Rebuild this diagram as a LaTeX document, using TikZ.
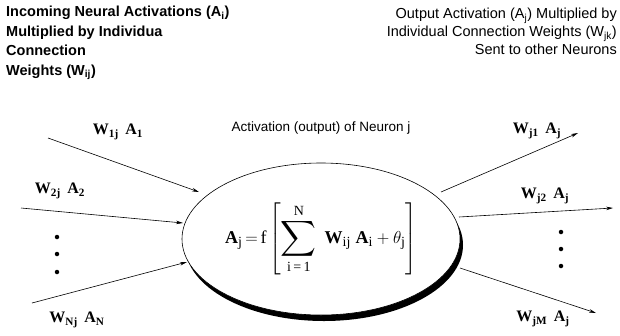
\documentclass[tikz,border=0pt]{standalone}
\usepackage{amsmath}
\usepackage{fontspec}
\setmainfont{Liberation Sans}
\newfontfamily\labfont{Liberation Serif}
\usetikzlibrary{shapes.geometric,arrows.meta}
\newcommand\mybigsum{\mathop{\vcenter{\hbox{\fontsize{26}{30}\selectfont$\displaystyle\sum$}}}}
\newcommand\ser[1]{\mbox{\fontsize{14}{16}\selectfont\labfont #1}}
\newcommand\serb[1]{\mbox{\labfont\bfseries #1}}
\begin{document}
\begin{tikzpicture}[x=1pt,y=-1pt,
  conn/.style={line width=0.6pt,-{Stealth[length=7pt,width=3.5pt]}},
  headl/.style={inner sep=0pt,font=\fontsize{14.5}{19.5}\selectfont\bfseries},
  headr/.style={inner sep=0pt,font=\fontsize{14.5}{18}\selectfont},
  wlab/.style={inner sep=0pt,font=\fontsize{16}{18}\selectfont\labfont\bfseries},
  vdot/.style={circle,fill=black,inner sep=0pt,minimum size=4.5pt},
  neur/.style={ellipse,draw,line width=0.6pt,fill=white,minimum width=278pt,minimum height=152pt,inner sep=0pt}]
\useasboundingbox (0,0) rectangle (620,335);
% headers
\node[headl,anchor=north west,align=left] (hl) at (6,6) {Incoming Neural Activations (A\textsubscript{i})\\Multiplied by Individua\\Connection\\Weights (W\textsubscript{ij})};
\node[headr,anchor=north east,align=right] (hr) at (617,8) {Output Activation (A\textsubscript{j}) Multiplied by\\Individual Connection Weights (W\textsubscript{jk})\\Sent to other Neurons};
\node[inner sep=0pt,font=\fontsize{13.5}{16}\selectfont] (title) at (321,128) {Activation (output) of Neuron j};
% neuron with shadow
\fill[black] (324,245) ellipse [x radius=139pt, y radius=76pt];
\node[neur,font=\fontsize{18}{22}\selectfont] (neuron) at (321,239) {$\serb{A}_{\ser{j}}\,{=}\,\mbox{\labfont f}\left[\mybigsum\limits_{\ser{i\,=\,1}}^{\ser{N}}\;\serb{W}_{\ser{ij}}\;\serb{A}_{\ser{i}}+\theta_{\ser{j}}\right]$};
% input connectors
\coordinate (i1s) at (48,138);
\coordinate (i1e) at (199,192);
\coordinate (i2s) at (21,208);
\coordinate (i2e) at (183,223);
\coordinate (i3s) at (32,303);
\coordinate (i3e) at (187,262);
\draw[conn] (i1s) -- (i1e);
\draw[conn] (i2s) -- (i2e);
\draw[conn] (i3s) -- (i3e);
% output connectors
\coordinate (o1s) at (441,192);
\coordinate (o1e) at (578,133);
\coordinate (o2s) at (459,217);
\coordinate (o2e) at (613,208);
\coordinate (o3s) at (460,268);
\coordinate (o3e) at (596,313);
\draw[conn] (o1s) -- (o1e);
\draw[conn] (o2s) -- (o2e);
\draw[conn] (o3s) -- (o3e);
% dots
\node[vdot] (dl1) at (57,237) {};
\node[vdot] (dl2) at (57,254) {};
\node[vdot] (dl3) at (57,272) {};
\node[vdot] (dr1) at (561,232) {};
\node[vdot] (dr2) at (561,249) {};
\node[vdot] (dr3) at (561,266) {};
% labels
\node[wlab] (l1) at (118,132) {W\textsubscript{1j}\, A\textsubscript{1}};
\node[wlab] (l2) at (60,191) {W\textsubscript{2j}\, A\textsubscript{2}};
\node[wlab] (l3) at (77,320) {W\textsubscript{Nj}\, A\textsubscript{N}};
\node[wlab] (r1) at (537,131) {W\textsubscript{j1}\, A\textsubscript{j}};
\node[wlab] (r2) at (545,196) {W\textsubscript{j2}\, A\textsubscript{j}};
\node[wlab] (r3) at (543,319) {W\textsubscript{jM}\, A\textsubscript{j}};
\end{tikzpicture}
\end{document}
